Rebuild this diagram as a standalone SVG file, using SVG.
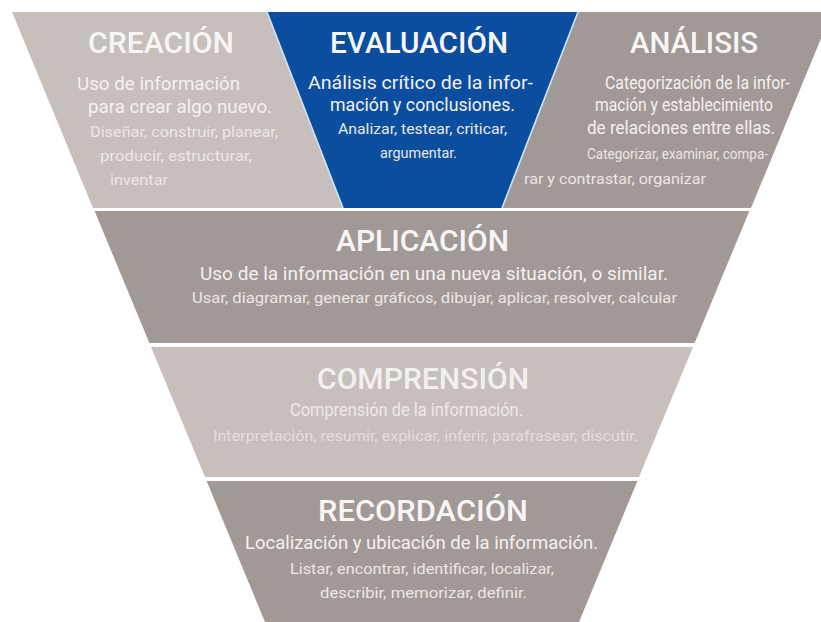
<svg xmlns="http://www.w3.org/2000/svg" width="821" height="622" viewBox="0 0 821 622">
  <style>
    text { font-family: Roboto, "Liberation Sans", sans-serif; }
    .title { font-size: 30px; font-weight: 500; fill: #f8f6f5; }
    .desc  { font-size: 18.5px; fill: #f4f1ef; }
    .sub   { font-size: 14.5px; fill: #ece7e4; }
    .light { fill: #c7bfbc; }
    .dark  { fill: #a19995; }
    .blue  { fill: #0b4e9f; }
    .edge  { stroke: #cfe6f4; stroke-width: 1.6; fill: none; }
    .faint-title { fill: #f3f0ef; }
    .faint-desc  { fill: #eeeae8; }
    .faint-sub   { fill: #e3dedb; }
  </style>

  <rect width="821" height="622" fill="#ffffff"/>

  <!-- Top row: three slanted panels -->
  <g id="creacion">
    <polygon class="light" points="12,12 267,12 343,208 93,208"/>
    <text class="title" x="88" y="53" textLength="146" lengthAdjust="spacingAndGlyphs">CREACIÓN</text>
    <text class="desc" x="77" y="90" textLength="163" lengthAdjust="spacingAndGlyphs">Uso de información</text>
    <text class="desc" x="88" y="113" textLength="184" lengthAdjust="spacingAndGlyphs">para crear algo nuevo.</text>
    <text class="sub" x="90" y="137" textLength="188" lengthAdjust="spacingAndGlyphs">Diseñar, construir, planear,</text>
    <text class="sub" x="100" y="161" textLength="152" lengthAdjust="spacingAndGlyphs">producir, estructurar,</text>
    <text class="sub" x="110" y="185" textLength="58" lengthAdjust="spacingAndGlyphs">inventar</text>
  </g>

  <g id="evaluacion">
    <polygon class="blue" points="267,12 578,12 502,208 343,208"/>
    <text class="title" x="330" y="53" textLength="178" lengthAdjust="spacingAndGlyphs">EVALUACIÓN</text>
    <text class="desc" x="308" y="89" textLength="225" lengthAdjust="spacingAndGlyphs">Análisis crítico de la infor-</text>
    <text class="desc" x="330" y="111" textLength="185" lengthAdjust="spacingAndGlyphs">mación y conclusiones.</text>
    <text class="sub" x="338" y="134" textLength="169" lengthAdjust="spacingAndGlyphs">Analizar, testear, criticar,</text>
    <text class="sub" x="380" y="158" textLength="77" lengthAdjust="spacingAndGlyphs">argumentar.</text>
  </g>

  <g id="analisis">
    <polygon class="dark" points="578,12 832,12 751,208 502,208"/>
    <text class="title" x="630" y="53" textLength="128" lengthAdjust="spacingAndGlyphs">ANÁLISIS</text>
    <text class="desc" x="605" y="89" textLength="185" lengthAdjust="spacingAndGlyphs">Categorización de la infor-</text>
    <text class="desc" x="595" y="111" textLength="178" lengthAdjust="spacingAndGlyphs">mación y establecimiento</text>
    <text class="desc" x="587" y="134" textLength="188" lengthAdjust="spacingAndGlyphs">de relaciones entre ellas.</text>
    <text class="sub" x="587" y="159" textLength="181" lengthAdjust="spacingAndGlyphs">Categorizar, examinar, compa-</text>
    <text class="sub" x="524" y="184" textLength="182" lengthAdjust="spacingAndGlyphs">rar y contrastar, organizar</text>
  </g>

  <!-- Light rims along the blue panel's slanted sides -->
  <g id="rims">
    <line class="edge" x1="267" y1="12" x2="343" y2="208"/>
    <line class="edge" x1="578" y1="12" x2="502" y2="208"/>
  </g>

  <!-- Funnel bands -->
  <g id="aplicacion">
    <polygon class="dark" points="94.6,211 749.4,211 694.6,343 149.4,343"/>
    <text class="title" x="336" y="251" textLength="173" lengthAdjust="spacingAndGlyphs">APLICACIÓN</text>
    <text class="desc" x="200" y="280" textLength="468" lengthAdjust="spacingAndGlyphs">Uso de la información en una nueva situación, o similar.</text>
    <text class="sub" x="192" y="303" textLength="485" lengthAdjust="spacingAndGlyphs">Usar, diagramar, generar gráficos, dibujar, aplicar, resolver, calcular</text>
  </g>

  <g id="comprension">
    <polygon class="light" points="151,347 693,347 639,477 205,477"/>
    <text class="title faint-title" x="317" y="389" textLength="212" lengthAdjust="spacingAndGlyphs">COMPRENSIÓN</text>
    <text class="desc faint-desc" x="290" y="416" textLength="233" lengthAdjust="spacingAndGlyphs">Comprensión de la información.</text>
    <text class="sub faint-sub" x="213" y="441" textLength="425" lengthAdjust="spacingAndGlyphs">Interpretación, resumir, explicar, inferir, parafrasear, discutir.</text>
  </g>

  <g id="recordacion">
    <polygon class="dark" points="206.6,481 637.4,481 579,622 265,622"/>
    <text class="title" x="318" y="521" textLength="210" lengthAdjust="spacingAndGlyphs">RECORDACIÓN</text>
    <text class="desc" x="245" y="549" textLength="353" lengthAdjust="spacingAndGlyphs">Localización y ubicación de la información.</text>
    <text class="sub" x="290" y="574" textLength="264" lengthAdjust="spacingAndGlyphs">Listar, encontrar, identificar, localizar,</text>
    <text class="sub" x="320" y="598" textLength="207" lengthAdjust="spacingAndGlyphs">describir, memorizar, definir.</text>
  </g>
</svg>
